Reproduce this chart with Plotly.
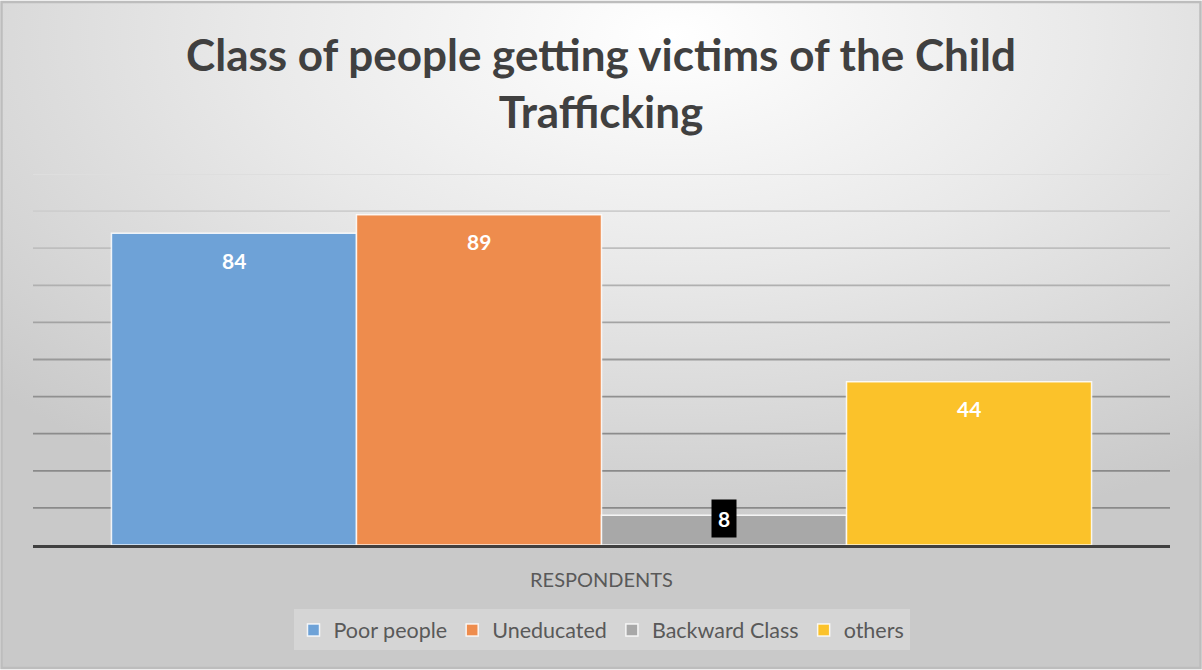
import base64
import plotly.graph_objects as go

# Survey results: which class of people fall victim to child trafficking
category = ["RESPONDENTS"]
series_names = ["Poor people", "Uneducated", "Backward Class", "others"]
series_values = [84, 89, 8, 44]
series_colors = ["#6EA2D7", "#EE8C4D", "#A8A8A8", "#FBC22A"]

grid_values = [10, 20, 30, 40, 50, 60, 70, 80, 90, 100]
grid_colors = ["#8A8A8A", "#8A8A8A", "#8C8C8C", "#909090", "#999999",
               "#A3A3A3", "#B0B0B0", "#BEBEBE", "#CECECE", "#DEDEDE"]

W, H = 1202, 670
L, R, T, B = 33, 32, 174, 125
pw, ph = W - L - R, H - T - B
FONT = "Lato, Open Sans, sans-serif"

# soft radial background with a thin frame
svg = f"""<svg xmlns='http://www.w3.org/2000/svg' width='{W}' height='{H}' viewBox='0 0 {W} {H}' preserveAspectRatio='none'>
<defs><radialGradient id='g' cx='0.56' cy='0.05' r='0.78' fx='0.56' fy='0.05'>
<stop offset='0' stop-color='#ffffff'/><stop offset='0.45' stop-color='#e9e9e9'/>
<stop offset='1' stop-color='#c9c9c9'/></radialGradient></defs>
<rect x='0' y='0' width='{W}' height='{H}' fill='#ffffff'/>
<rect x='1.5' y='2' width='{W-3}' height='{H-4}' fill='url(#g)' stroke='#bdbdbd' stroke-width='2.5'/>
</svg>"""
bg_uri = "data:image/svg+xml;base64," + base64.b64encode(svg.encode()).decode()

fig = go.Figure()
for name, val, col in zip(series_names, series_values, series_colors):
    fig.add_trace(go.Bar(
        x=category, y=[val], name=name,
        marker=dict(color=col, line=dict(color="rgba(255,255,255,0.85)", width=1.5)),
        hoverinfo="name+y",
    ))

# data labels: inside end for tall bars, boxed just above the top for short ones
n = len(series_values)
for i, val in enumerate(series_values):
    offset = (i - (n - 1) / 2) / n
    inside = val > 20
    fig.add_annotation(
        x=0 + offset * 0.862, xref="x", y=val, yref="y",
        text=f"<b>{val}</b>", showarrow=False,
        yshift=-27 if inside else -3,
        font=dict(family=FONT, size=21, color="#FFFFFF"),
        bgcolor=None if inside else "#000000",
        borderpad=6 if not inside else 0,
    )

# horizontal gridlines, fading toward the top
for v, c in zip(grid_values, grid_colors):
    fig.add_shape(type="line", xref="paper", x0=0, x1=1, yref="y", y0=v, y1=v,
                  line=dict(color=c, width=1.8), layer="below")

fig.add_layout_image(
    source=bg_uri, xref="paper", yref="paper",
    x=-L / pw, y=1 + T / ph, sizex=W / pw, sizey=H / ph,
    xanchor="left", yanchor="top", sizing="stretch", layer="below",
)

fig.update_layout(
    width=W, height=H,
    margin=dict(l=L, r=R, t=T, b=B),
    paper_bgcolor="rgba(0,0,0,0)", plot_bgcolor="rgba(0,0,0,0)",
    barmode="group", bargap=0.138, bargroupgap=0,
    title=dict(
        text="<b>Class of people getting victims of the Child<br>Trafficking</b>",
        x=0.5, xanchor="center", y=0.894, yanchor="middle",
        font=dict(family=FONT, size=44, color="#404040"),
    ),
    xaxis=dict(
        showgrid=False, showline=True, linecolor="#404040", linewidth=3,
        ticks="outside", ticklen=15, tickcolor="rgba(0,0,0,0)",
        tickfont=dict(family=FONT, size=20, color="#595959"),
    ),
    yaxis=dict(range=[0, 100], showgrid=False, showticklabels=False,
               zeroline=False, fixedrange=True),
    legend=dict(
        orientation="h", x=0.5, xanchor="center", y=-0.229, yanchor="middle",
        bgcolor="rgba(255,255,255,0.22)",
        font=dict(family=FONT, size=21.5, color="#595959"),
        itemwidth=30, traceorder="normal",
    ),
    showlegend=True,
)

fig.write_html("out.html")
